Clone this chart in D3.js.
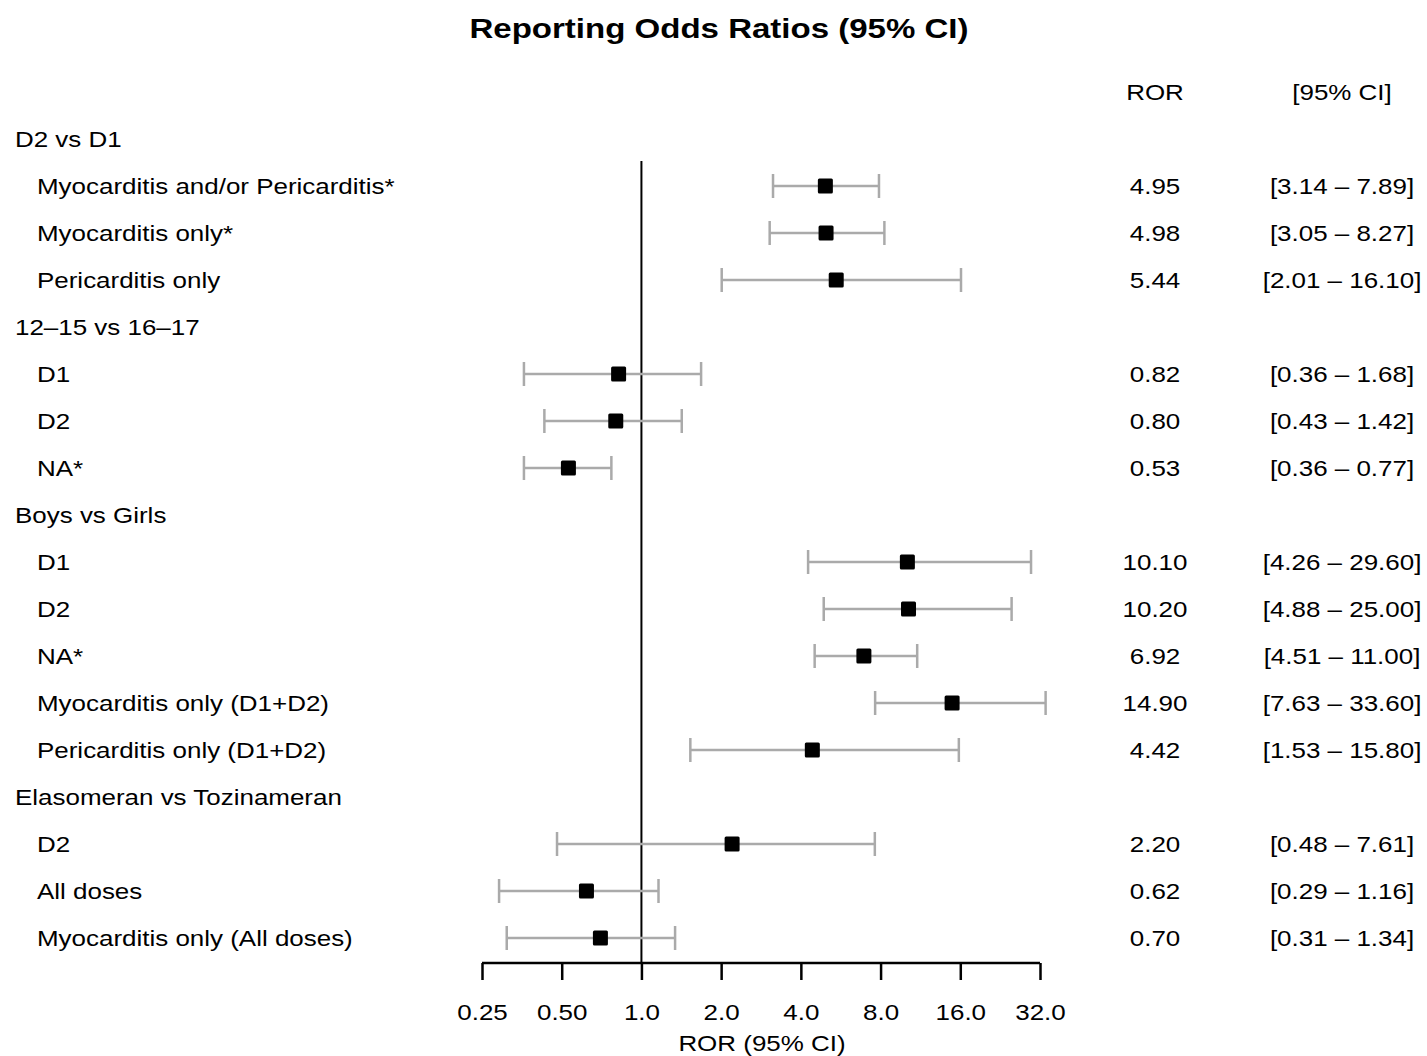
<!DOCTYPE html>
<html>
<head>
<meta charset="utf-8">
<script src="https://cdn.jsdelivr.net/npm/d3@7"></script>
<style>
  body { margin: 0; background: #fff; }
  svg text { font-family: "Liberation Sans", Arial, sans-serif; fill: #000; }
</style>
</head>
<body>
<svg id="chart"></svg>
<script>
const width = 1427;
const height = 1056;

// rows in drawing order; group headers have no values
const labels = [
  'D2 vs D1', 'Myocarditis and/or Pericarditis*', 'Myocarditis only*', 'Pericarditis only',
  '12–15 vs 16–17', 'D1', 'D2', 'NA*',
  'Boys vs Girls', 'D1', 'D2', 'NA*', 'Myocarditis only (D1+D2)', 'Pericarditis only (D1+D2)',
  'Elasomeran vs Tozinameran', 'D2', 'All doses', 'Myocarditis only (All doses)'
];
const isGroup = [true, false, false, false, true, false, false, false,
  true, false, false, false, false, false, true, false, false, false];
const ror   = [null, 4.95, 4.98, 5.44, null, 0.82, 0.80, 0.53, null, 10.10, 10.20, 6.92, 14.90, 4.42, null, 2.20, 0.62, 0.70];
const lower = [null, 3.14, 3.05, 2.01, null, 0.36, 0.43, 0.36, null, 4.26, 4.88, 4.51, 7.63, 1.53, null, 0.48, 0.29, 0.31];
const upper = [null, 7.89, 8.27, 16.10, null, 1.68, 1.42, 0.77, null, 29.60, 25.00, 11.00, 33.60, 15.80, null, 7.61, 1.16, 1.34];
const tickValues = [0.25, 0.5, 1, 2, 4, 8, 16, 32];
const tickLabels = ['0.25', '0.50', '1.0', '2.0', '4.0', '8.0', '16.0', '32.0'];

const rows = labels.map((label, i) => ({
  label, group: isGroup[i], ror: ror[i], lo: lower[i], hi: upper[i], i
}));

const svg = d3.select('#chart').attr('width', width).attr('height', height);

const x = d3.scaleLog().base(2).domain([0.25, 32]).range([482, 1040]);
const y = d3.scaleLinear().domain([0, rows.length - 1]).range([139, 938]);
const axisY = 963;
const sx = 1.18; // the original text is drawn a little wide

function label(sel, tx, ty, anchor) {
  return sel.attr('transform', (d, i) => `translate(${typeof tx === 'function' ? tx(d, i) : tx},${typeof ty === 'function' ? ty(d, i) : ty}) scale(${sx},1)`)
    .attr('text-anchor', anchor).attr('font-size', 22);
}

// title
svg.append('text')
  .attr('transform', `translate(719,38) scale(${sx},1)`)
  .attr('text-anchor', 'middle').attr('font-size', 28).attr('font-weight', 'bold')
  .text('Reporting Odds Ratios (95% CI)');

// column headers
label(svg.append('text'), 1155, 100, 'middle').text('ROR');
label(svg.append('text'), 1342, 100, 'middle').text('[95% CI]');

// row labels
label(svg.selectAll('.label').data(rows).enter().append('text').attr('class', 'label'),
  d => d.group ? 15 : 37, d => y(d.i) + 8, 'start')
  .text(d => d.label);

// reference line at 1
svg.append('line')
  .attr('x1', x(1)).attr('x2', x(1))
  .attr('y1', 161).attr('y2', axisY)
  .attr('stroke', '#000').attr('stroke-width', 2);

const est = rows.filter(d => !d.group);

// confidence intervals
const ci = svg.selectAll('.ci').data(est).enter().append('g').attr('class', 'ci')
  .attr('stroke', '#aaaaaa').attr('stroke-width', 2.5);
ci.append('line')
  .attr('x1', d => x(d.lo)).attr('x2', d => x(d.hi))
  .attr('y1', d => y(d.i)).attr('y2', d => y(d.i));
ci.append('line')
  .attr('x1', d => x(d.lo)).attr('x2', d => x(d.lo))
  .attr('y1', d => y(d.i) - 12).attr('y2', d => y(d.i) + 12);
ci.append('line')
  .attr('x1', d => x(d.hi)).attr('x2', d => x(d.hi))
  .attr('y1', d => y(d.i) - 12).attr('y2', d => y(d.i) + 12);

// point estimates
svg.selectAll('.pt').data(est).enter().append('rect')
  .attr('class', 'pt')
  .attr('x', d => x(d.ror) - 7.5).attr('y', d => y(d.i) - 7.5)
  .attr('width', 15).attr('height', 15).attr('rx', 1.5)
  .attr('fill', '#000');

// value columns
const fmt = d3.format('.2f');
label(svg.selectAll('.rorval').data(est).enter().append('text').attr('class', 'rorval'),
  1155, d => y(d.i) + 8, 'middle')
  .text(d => fmt(d.ror));
label(svg.selectAll('.cival').data(est).enter().append('text').attr('class', 'cival'),
  1342, d => y(d.i) + 8, 'middle')
  .text(d => `[${fmt(d.lo)} – ${fmt(d.hi)}]`);

// x axis
const axis = d3.axisBottom(x).tickValues(tickValues)
  .tickFormat((d, i) => tickLabels[i]).tickSize(17).tickPadding(24);
const gAxis = svg.append('g').attr('transform', `translate(0,${axisY})`).call(axis);
gAxis.select('.domain').attr('stroke', '#000').attr('stroke-width', 2.5)
  .attr('d', `M${x(0.25)},0H${x(32)}`);
gAxis.selectAll('.tick line').attr('stroke', '#000').attr('stroke-width', 2.5);
gAxis.selectAll('.tick text').attr('font-size', 22)
  .attr('transform', `scale(${sx},1)`)
  .attr('font-family', '"Liberation Sans", Arial, sans-serif').attr('fill', '#000');

label(svg.append('text'), 762, 1051, 'middle').text('ROR (95% CI)');
</script>
</body>
</html>
